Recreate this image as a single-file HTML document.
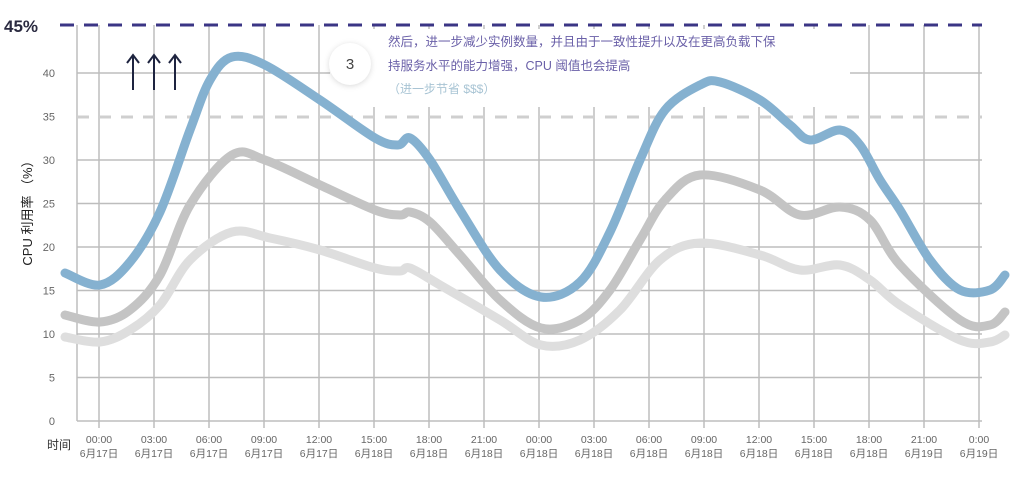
<!DOCTYPE html>
<html><head><meta charset="utf-8"><style>
body{margin:0;background:#fff;width:1024px;height:472px;overflow:hidden}
text{font-family:"Liberation Sans","Noto Sans CJK SC",sans-serif}
</style></head><body>
<svg id="s" width="1024" height="472" viewBox="0 0 1024 472" xmlns="http://www.w3.org/2000/svg">
<g id="grid" stroke="#bdbdbd" stroke-width="1.5" fill="none"></g>
<rect x="330" y="29" width="520" height="78" fill="#fff"/>
<line x1="77" y1="117" x2="982" y2="117" stroke="#cfcfcf" stroke-width="3" stroke-dasharray="12,10"/>
<line x1="60" y1="25" x2="982" y2="25" stroke="#3b3585" stroke-width="3" stroke-dasharray="14,10"/>
<text x="4" y="32" font-size="17" font-weight="bold" fill="#2a2a40">45%</text>
<g id="yl" font-size="11" fill="#666" text-anchor="end"></g>
<g id="curves" fill="none" stroke-linecap="round" stroke-linejoin="round"></g>
<g stroke="#1e2440" stroke-width="2" fill="none">
<path d="M133 90V56M127 63L133 55L139 63"/><path d="M154 90V56M148 63L154 55L160 63"/><path d="M175 90V56M169 63L175 55L181 63"/>
</g>
<circle cx="350" cy="64" r="21" fill="#fff" style="filter:drop-shadow(0 1px 3px rgba(0,0,0,0.15))"/>
<text x="350" y="69" font-size="15" fill="#444" text-anchor="middle">3</text>
<text x="388" y="46" font-size="12.5" fill="#6a60a8">然后，进一步减少实例数量，并且由于一致性提升以及在更高负载下保</text>
<text x="388" y="70" font-size="12.5" fill="#6a60a8">持服务水平的能力增强，CPU 阈值也会提高</text>
<text x="388" y="93" font-size="12" fill="#a8c4d4">（进一步节省 $$$）</text>
<text transform="translate(32,210) rotate(-90)" font-size="13" fill="#222" text-anchor="middle">CPU 利用率 （%）</text>
<text x="47" y="449" font-size="12" fill="#333">时间</text>
<g id="xl" font-size="10.5" fill="#666" text-anchor="middle"></g>
</svg>
<script>
var NS="http://www.w3.org/2000/svg",g=document.getElementById('grid');
function el(p,t,a,txt){var e=document.createElementNS(NS,t);for(var k in a)e.setAttribute(k,a[k]);if(txt!=null)e.textContent=txt;p.appendChild(e);return e;}
for(var v=0;v<=40;v+=5){if(v==35)continue;var y=421-v*8.7;el(g,'line',{x1:77,y1:y,x2:982,y2:y});}
el(g,'line',{x1:77,y1:25,x2:77,y2:421});
var times=["00:00","03:00","06:00","09:00","12:00","15:00","18:00","21:00","00:00","03:00","06:00","09:00","12:00","15:00","18:00","21:00","0:00"];
var days=["6月17日","6月17日","6月17日","6月17日","6月17日","6月18日","6月18日","6月18日","6月18日","6月18日","6月18日","6月18日","6月18日","6月18日","6月18日","6月19日","6月19日"];
var xl=document.getElementById('xl');
for(var i=0;i<17;i++){var x=99+i*55;el(g,'line',{x1:x,y1:25,x2:x,y2:428});el(xl,'text',{x:x,y:443},times[i]);el(xl,'text',{x:x,y:457},days[i]);}
var yl=document.getElementById('yl');
for(var v=0;v<=40;v+=5){el(yl,'text',{x:55,y:421-v*8.7+4},String(v));}
function cr(p){var d="M"+p[0][0]+" "+p[0][1];for(var i=0;i<p.length-1;i++){var p0=p[i-1]||p[i],p1=p[i],p2=p[i+1],p3=p[i+2]||p2;
d+=" C"+(p1[0]+(p2[0]-p0[0])/6)+" "+(p1[1]+(p2[1]-p0[1])/6)+" "+(p2[0]-(p3[0]-p1[0])/6)+" "+(p2[1]-(p3[1]-p1[1])/6)+" "+p2[0]+" "+p2[1];}return d;}
var c=document.getElementById('curves');
var L=[[65,337],[100,342],[130,330],[160,305],[190,260],[232,232],[270,238],[320,250],[375,268],[400,271],[410,268],[440,285],[500,320],[541,345],[580,340],[620,310],[660,260],[700,243],[760,255],[800,270],[840,265],[870,280],[900,305],[960,340],[990,342],[1005,335]];
var G=[[65,315],[100,322],[130,310],[160,275],[190,205],[232,155],[265,160],[320,185],[375,210],[400,215],[410,212],[430,222],[460,255],[500,300],[541,328],[580,320],[610,290],[640,240],[665,200],[700,175],[760,190],[800,215],[840,207],[870,220],[900,265],[960,320],[990,325],[1005,312]];
var B=[[65,273],[100,285],[130,262],[160,212],[190,130],[210,80],[232,57],[265,65],[320,100],[375,138],[398,145],[410,138],[430,160],[460,210],[500,270],[541,297],[580,282],[610,232],[640,160],[665,110],[700,85],[720,82],[760,100],[790,125],[810,140],[840,130],[860,145],[880,180],[900,210],[930,260],[960,290],[990,290],[1005,275]];
el(c,'path',{d:cr(L),stroke:'#dedede','stroke-width':9});
el(c,'path',{d:cr(G),stroke:'#c4c4c4','stroke-width':9});
el(c,'path',{d:cr(B),stroke:'#85b1d0','stroke-width':9});
</script>
</body></html>
